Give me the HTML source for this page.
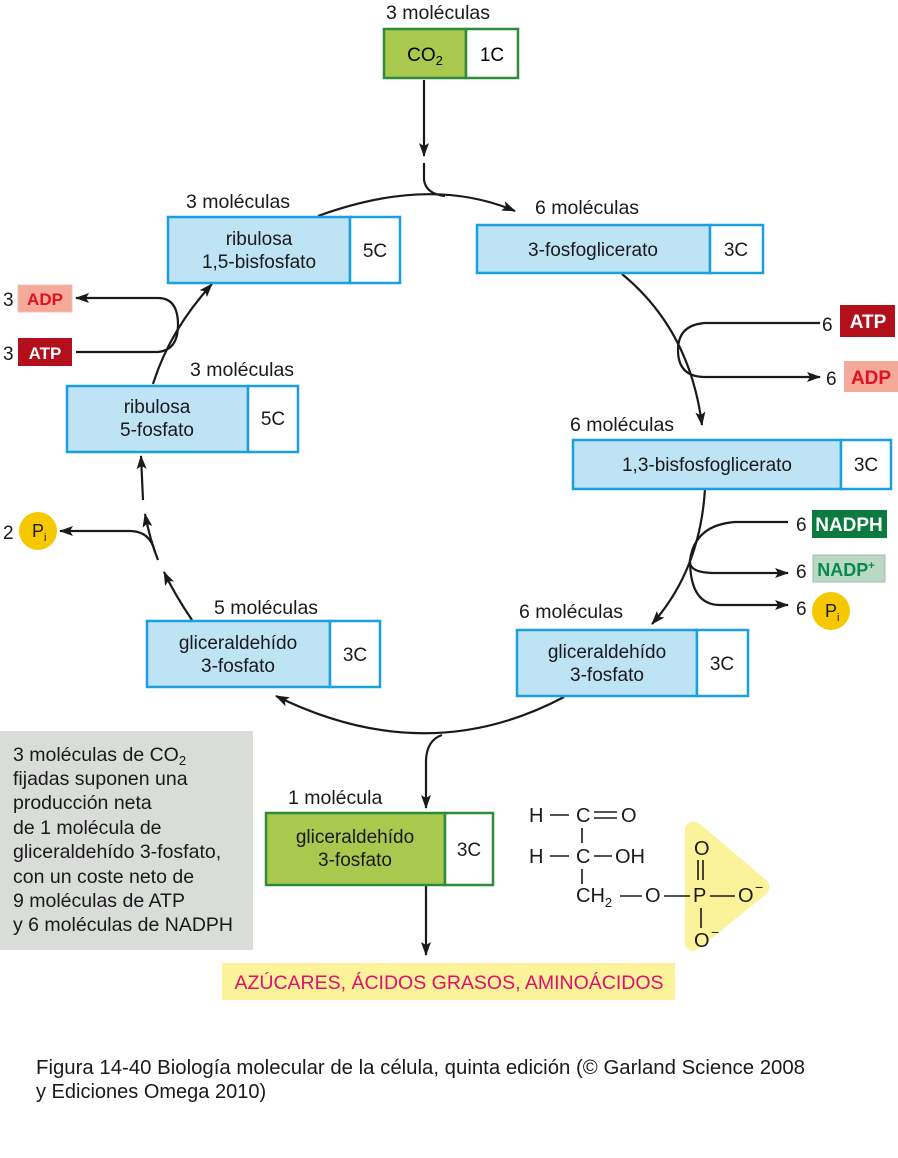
<!DOCTYPE html>
<html><head><meta charset="utf-8"><style>
body{margin:0;background:#fff}
svg{display:block}
text{font-family:"Liberation Sans",sans-serif;}
</style></head><body>
<svg width="898" height="1158" viewBox="0 0 898 1158" xmlns="http://www.w3.org/2000/svg">
<defs>
<marker id="a" markerWidth="14" markerHeight="10" refX="13" refY="5" orient="auto" markerUnits="userSpaceOnUse">
<path d="M0,0 L14,5 L0,10 L3,5 Z" fill="#1a1a1a"/></marker>
</defs>
<g fill="none" stroke="#1a1a1a" stroke-width="2.2">
<path d="M424,80 L424,156" marker-end="url(#a)"/>
<path d="M424,163 L424,180 Q426,194 445,196"/>
<path d="M318,216 Q430,175 515,211" marker-end="url(#a)"/>
<path d="M622,274 Q690,330 702,425" marker-end="url(#a)"/>
<path d="M705,489 Q700,570 652,624" marker-end="url(#a)"/>
<path d="M564,697 Q426,770 276,696" marker-end="url(#a)"/>
<path d="M192,620 Q175,595 164,572" marker-end="url(#a)"/>
<path d="M158,560 Q150,540 145,514" marker-end="url(#a)"/>
<path d="M155,552 Q150,531 130,531 L60,531" marker-end="url(#a)"/>
<path d="M143,500 L141,456" marker-end="url(#a)"/>
<path d="M153,384 Q170,330 212,284" marker-end="url(#a)"/>
<path d="M76,352 L158,352 Q178,350 178,325 Q178,298 158,298 L76,298" marker-end="url(#a)"/>
<path d="M820,323 L705,323 Q678,325 678,350 Q678,377 705,377 L820,377" marker-end="url(#a)"/>
<path d="M788,522 L735,522 Q695,525 690,560 Q688,573 715,573 L788,573" marker-end="url(#a)"/>
<path d="M690,560 Q690,605 720,605 L788,605" marker-end="url(#a)"/>
<path d="M442,735 Q427,740 426,760 L426,808" marker-end="url(#a)"/>
<path d="M426,886 L426,955" marker-end="url(#a)"/>
</g>

<g font-size="19.5" fill="#1a1a1a">
<text x="438" y="19" text-anchor="middle">3 moléculas</text>
<text x="186" y="208">3 moléculas</text>
<text x="535" y="214">6 moléculas</text>
<text x="190" y="376">3 moléculas</text>
<text x="570" y="431">6 moléculas</text>
<text x="214" y="614">5 moléculas</text>
<text x="519" y="618">6 moléculas</text>
<text x="288" y="804">1 molécula</text>
</g>

<rect x="384" y="29" width="82" height="49" fill="#a9c94e" stroke="#2e8b3a" stroke-width="2.5"/>
<rect x="466" y="29" width="52" height="49" fill="#fff" stroke="#2e8b3a" stroke-width="2.5"/>
<text x="425" y="61" font-size="19" text-anchor="middle">CO<tspan font-size="13" dy="4">2</tspan></text>
<text x="492" y="61" font-size="19" text-anchor="middle">1C</text>

<g stroke="#1aa0e0" stroke-width="2.5">
<rect x="168" y="217" width="182" height="66" fill="#bde3f5"/><rect x="350" y="217" width="50" height="66" fill="#fff"/>
<rect x="477" y="225" width="233" height="48" fill="#bde3f5"/><rect x="710" y="225" width="53" height="48" fill="#fff"/>
<rect x="67" y="386" width="181" height="66" fill="#bde3f5"/><rect x="248" y="386" width="50" height="66" fill="#fff"/>
<rect x="573" y="440" width="268" height="49" fill="#bde3f5"/><rect x="841" y="440" width="50" height="49" fill="#fff"/>
<rect x="147" y="621" width="183" height="66" fill="#bde3f5"/><rect x="330" y="621" width="50" height="66" fill="#fff"/>
<rect x="517" y="630" width="180" height="66" fill="#bde3f5"/><rect x="697" y="630" width="51" height="66" fill="#fff"/>
</g>
<g font-size="19" fill="#1a1a1a" text-anchor="middle">
<text x="259" y="245">ribulosa</text><text x="259" y="268">1,5-bisfosfato</text><text x="375" y="257">5C</text>
<text x="593" y="256">3-fosfoglicerato</text><text x="736" y="256">3C</text>
<text x="157" y="413">ribulosa</text><text x="157" y="436">5-fosfato</text><text x="273" y="425">5C</text>
<text x="707" y="471">1,3-bisfosfoglicerato</text><text x="866" y="471">3C</text>
<text x="238" y="649">gliceraldehído</text><text x="238" y="672">3-fosfato</text><text x="355" y="661">3C</text>
<text x="607" y="658">gliceraldehído</text><text x="607" y="681">3-fosfato</text><text x="722" y="670">3C</text>
</g>

<rect x="266" y="813" width="179" height="72" fill="#a9c94e" stroke="#2e8b3a" stroke-width="2.5"/>
<rect x="445" y="813" width="48" height="72" fill="#fff" stroke="#2e8b3a" stroke-width="2.5"/>
<g font-size="19" fill="#1a1a1a" text-anchor="middle">
<text x="355" y="843">gliceraldehído</text><text x="355" y="866">3-fosfato</text><text x="469" y="856">3C</text>
</g>

<g font-size="19" fill="#1a1a1a">
<text x="3" y="306">3</text><text x="3" y="360">3</text><text x="3" y="539">2</text>
<text x="822" y="331">6</text><text x="826" y="385">6</text>
<text x="796" y="531">6</text><text x="796" y="578">6</text><text x="796" y="615">6</text>
</g>
<rect x="18" y="285" width="54" height="27" fill="#f4a99a" stroke="#eec0b4"/>
<text x="45" y="305" font-size="17" font-weight="bold" fill="#e3101f" text-anchor="middle">ADP</text>
<rect x="18" y="338" width="54" height="28" fill="#b3101c"/>
<text x="45" y="359" font-size="17" font-weight="bold" fill="#fff" text-anchor="middle">ATP</text>
<rect x="840" y="305" width="55" height="32" fill="#b3101c"/>
<text x="868" y="328" font-size="19" font-weight="bold" fill="#fff" text-anchor="middle">ATP</text>
<rect x="844" y="361" width="54" height="31" fill="#f4a99a"/>
<text x="871" y="384" font-size="19" font-weight="bold" fill="#e3101f" text-anchor="middle">ADP</text>
<rect x="812" y="510" width="75" height="28" fill="#0a7a3e"/>
<text x="849" y="531" font-size="19" font-weight="bold" fill="#fff" text-anchor="middle">NADPH</text>
<rect x="813" y="555" width="72" height="27" fill="#b9d9c4" stroke="#9cbfa8"/>
<text x="846" y="576" font-size="18" font-weight="bold" fill="#0a8a4a" text-anchor="middle">NADP<tspan font-size="11" dy="-7">+</tspan></text>
<circle cx="831" cy="611" r="19" fill="#f6c800"/>
<text x="825" y="617" font-size="18" fill="#1a1a1a">P<tspan font-size="11" dy="4">i</tspan></text>
<circle cx="38" cy="531" r="19" fill="#f6c800"/>
<text x="32" y="537" font-size="18" fill="#1a1a1a">P<tspan font-size="11" dy="4">i</tspan></text>

<rect x="0" y="731" width="253" height="219" fill="#d9dcd9"/>
<g font-size="19.5" fill="#1a1a1a">
<text x="13" y="761">3 moléculas de CO<tspan font-size="13" dy="4">2</tspan></text>
<text x="13" y="785">fijadas suponen una</text>
<text x="13" y="809">producción neta</text>
<text x="13" y="834">de 1 molécula de</text>
<text x="13" y="858">gliceraldehído 3-fosfato,</text>
<text x="13" y="883">con un coste neto de</text>
<text x="13" y="907">9 moléculas de ATP</text>
<text x="13" y="931">y 6 moléculas de NADPH</text>
</g>

<rect x="222" y="963" width="453" height="37" fill="#fbf29a"/>
<text x="449" y="989" font-size="19.5" fill="#e0106e" text-anchor="middle">AZÚCARES, ÁCIDOS GRASOS, AMINOÁCIDOS</text>

<path d="M685,827 Q690,818 700,824 L766,880 Q773,887 766,894 L700,948 Q690,955 685,945 Z" fill="#fbf29a"/>
<g font-family="Liberation Serif" font-size="20" fill="#1a1a1a">
<text x="529" y="822">H</text><text x="576" y="822">C</text><text x="621" y="822">O</text>
<text x="529" y="863">H</text><text x="576" y="863">C</text><text x="615" y="863">OH</text>
<text x="576" y="902">CH<tspan font-size="13" dy="5">2</tspan></text><text x="645" y="902">O</text>
<text x="693" y="902">P</text><text x="738" y="902">O</text><text x="755" y="892" font-size="14">−</text>
<text x="694" y="855">O</text>
<text x="694" y="947">O</text><text x="711" y="937" font-size="14">−</text>
</g>
<g stroke="#1a1a1a" stroke-width="1.6">
<line x1="550" y1="815" x2="569" y2="815"/>
<line x1="594" y1="812" x2="617" y2="812"/><line x1="594" y1="818" x2="617" y2="818"/>
<line x1="582" y1="828" x2="582" y2="843"/>
<line x1="550" y1="856" x2="569" y2="856"/>
<line x1="594" y1="856" x2="612" y2="856"/>
<line x1="582" y1="869" x2="582" y2="884"/>
<line x1="620" y1="896" x2="642" y2="896"/>
<line x1="664" y1="896" x2="690" y2="896"/>
<line x1="710" y1="896" x2="735" y2="896"/>
<line x1="698" y1="860" x2="698" y2="880"/><line x1="703" y1="860" x2="703" y2="880"/>
<line x1="701" y1="908" x2="701" y2="928"/>
</g>

<g font-size="20" fill="#1a1a1a">
<text x="36" y="1074" textLength="769" lengthAdjust="spacingAndGlyphs">Figura 14-40  Biología molecular de la célula, quinta edición (© Garland Science 2008</text>
<text x="36" y="1098">y Ediciones Omega 2010)</text>
</g>
</svg>
</body></html>
